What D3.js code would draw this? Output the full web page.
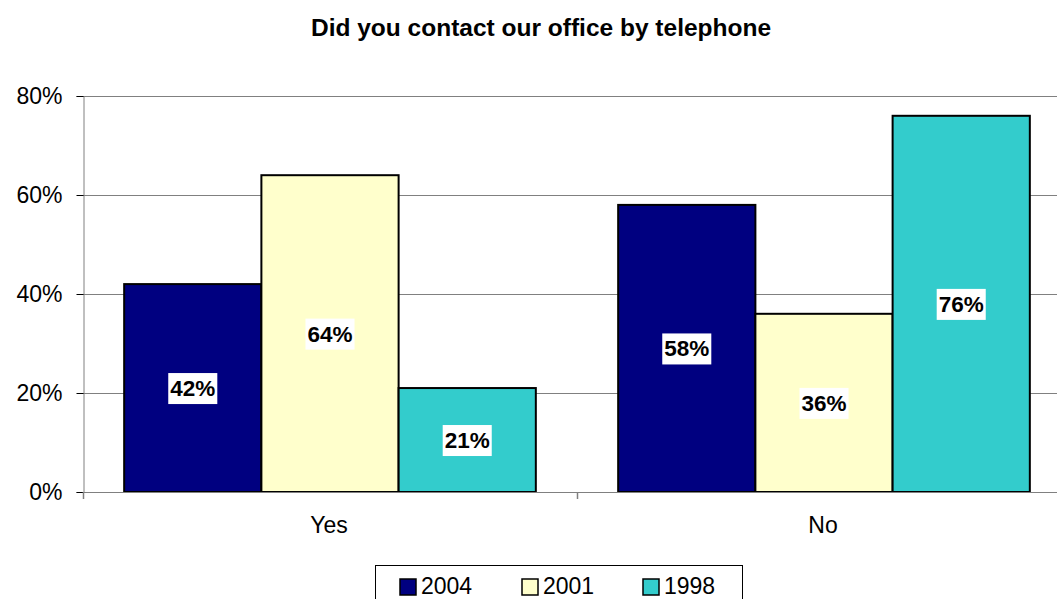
<!DOCTYPE html>
<html>
<head>
<meta charset="utf-8">
<script src="https://cdn.jsdelivr.net/npm/d3@7"></script>
<style>
  html, body { margin: 0; padding: 0; background: #fff; }
  svg { display: block; font-family: "Liberation Sans", Arial, sans-serif; }
</style>
</head>
<body>
<svg id="chart" width="1057" height="599"></svg>
<script>
// Survey answers per year
const categories = ["Yes", "No"];
const years = ["2004", "2001", "1998"];
const values2004 = [42, 58];
const values2001 = [64, 36];
const values1998 = [21, 76];
const yTicks = [0, 20, 40, 60, 80];
const colors = ["#000080", "#FFFFCC", "#33CCCC"];
const titleText = "Did you contact our office by telephone";

const seriesValues = [values2004, values2001, values1998];
const FONT = "\"Liberation Sans\", Arial, sans-serif";

const svg = d3.select("#chart");
const plot = { left: 83, right: 1071, top: 96, bottom: 492 };

const x0 = d3.scaleBand().domain(categories).range([plot.left, plot.right]).paddingInner(0).paddingOuter(0);
const x1 = d3.scaleBand().domain(years).range([0, x0.bandwidth()]).paddingInner(0).paddingOuter(0.3);
const y = d3.scaleLinear().domain([0, 80]).range([plot.bottom, plot.top]);

// Title
svg.append("text")
  .attr("x", 541).attr("y", 36)
  .attr("text-anchor", "middle")
  .attr("font-size", 24.5).attr("font-weight", "bold")
  .text(titleText);

// Gridlines
svg.append("g").selectAll("line")
  .data(yTicks.filter(t => t > 0))
  .join("line")
  .attr("x1", plot.left).attr("x2", plot.right)
  .attr("y1", d => y(d) + 0.5).attr("y2", d => y(d) + 0.5)
  .attr("stroke", "#808080").attr("stroke-width", 1);

// Y axis
const yAxis = d3.axisLeft(y).tickValues(yTicks).tickSize(7).tickPadding(14).tickFormat(d => d + "%");
const gy = svg.append("g").attr("transform", `translate(${plot.left + 0.5},0)`).call(yAxis);
gy.select(".domain").attr("stroke", "#808080");
gy.selectAll(".tick line").attr("stroke", "#000");
gy.selectAll(".tick text").attr("font-size", 23).attr("fill", "#000").attr("font-family", FONT);

// Bars
const groups = svg.append("g").selectAll("g")
  .data(categories)
  .join("g")
  .attr("transform", d => `translate(${x0(d)},0)`);

groups.each(function(cat, ci) {
  const g = d3.select(this);
  years.forEach((yr, si) => {
    const v = seriesValues[si][ci];
    g.append("rect")
      .attr("x", x1(yr))
      .attr("y", y(v))
      .attr("width", x1.bandwidth())
      .attr("height", y(0) - y(v))
      .attr("fill", colors[si])
      .attr("stroke", "#000").attr("stroke-width", 2);
  });
});

// X axis baseline and ticks
svg.append("line")
  .attr("x1", plot.left).attr("x2", plot.right)
  .attr("y1", plot.bottom + 0.5).attr("y2", plot.bottom + 0.5)
  .attr("stroke", "#808080");
const xTickPos = [plot.left, x0("No")];
svg.append("g").selectAll("line").data(xTickPos).join("line")
  .attr("x1", d => d + 0.5).attr("x2", d => d + 0.5)
  .attr("y1", plot.bottom).attr("y2", plot.bottom + 7)
  .attr("stroke", "#808080").attr("stroke-width", 1.5);

svg.append("g").selectAll("text").data(categories).join("text")
  .attr("x", d => x0(d) + x0.bandwidth() / 2 - 1)
  .attr("y", 533)
  .attr("text-anchor", "middle")
  .attr("font-size", 23)
  .text(d => d);

// Data labels with white backing
groups.each(function(cat, ci) {
  const g = d3.select(this);
  years.forEach((yr, si) => {
    const v = seriesValues[si][ci];
    const cx = x1(yr) + x1.bandwidth() / 2;
    const cy = (y(v) + y(0)) / 2;
    const t = g.append("text")
      .attr("x", cx).attr("y", cy + 8)
      .attr("text-anchor", "middle")
      .attr("font-size", 22.5).attr("font-weight", "bold")
      .text(v + "%");
    const bb = t.node().getBBox();
    g.insert("rect", function() { return t.node(); })
      .attr("x", bb.x - 2).attr("y", cy - 15)
      .attr("width", bb.width + 4).attr("height", 31)
      .attr("fill", "#fff");
  });
});

// Legend
const legend = svg.append("g");
legend.append("rect")
  .attr("x", 375.5).attr("y", 565.5).attr("width", 367).attr("height", 45)
  .attr("fill", "#fff").attr("stroke", "#000").attr("stroke-width", 1);
const legendX = [400, 522, 643];
years.forEach((yr, i) => {
  legend.append("rect")
    .attr("x", legendX[i]).attr("y", 579).attr("width", 16).attr("height", 16)
    .attr("fill", colors[i]).attr("stroke", "#000").attr("stroke-width", 1.5);
  legend.append("text")
    .attr("x", legendX[i] + 21).attr("y", 594)
    .attr("font-size", 23)
    .text(yr);
});
</script>
</body>
</html>
